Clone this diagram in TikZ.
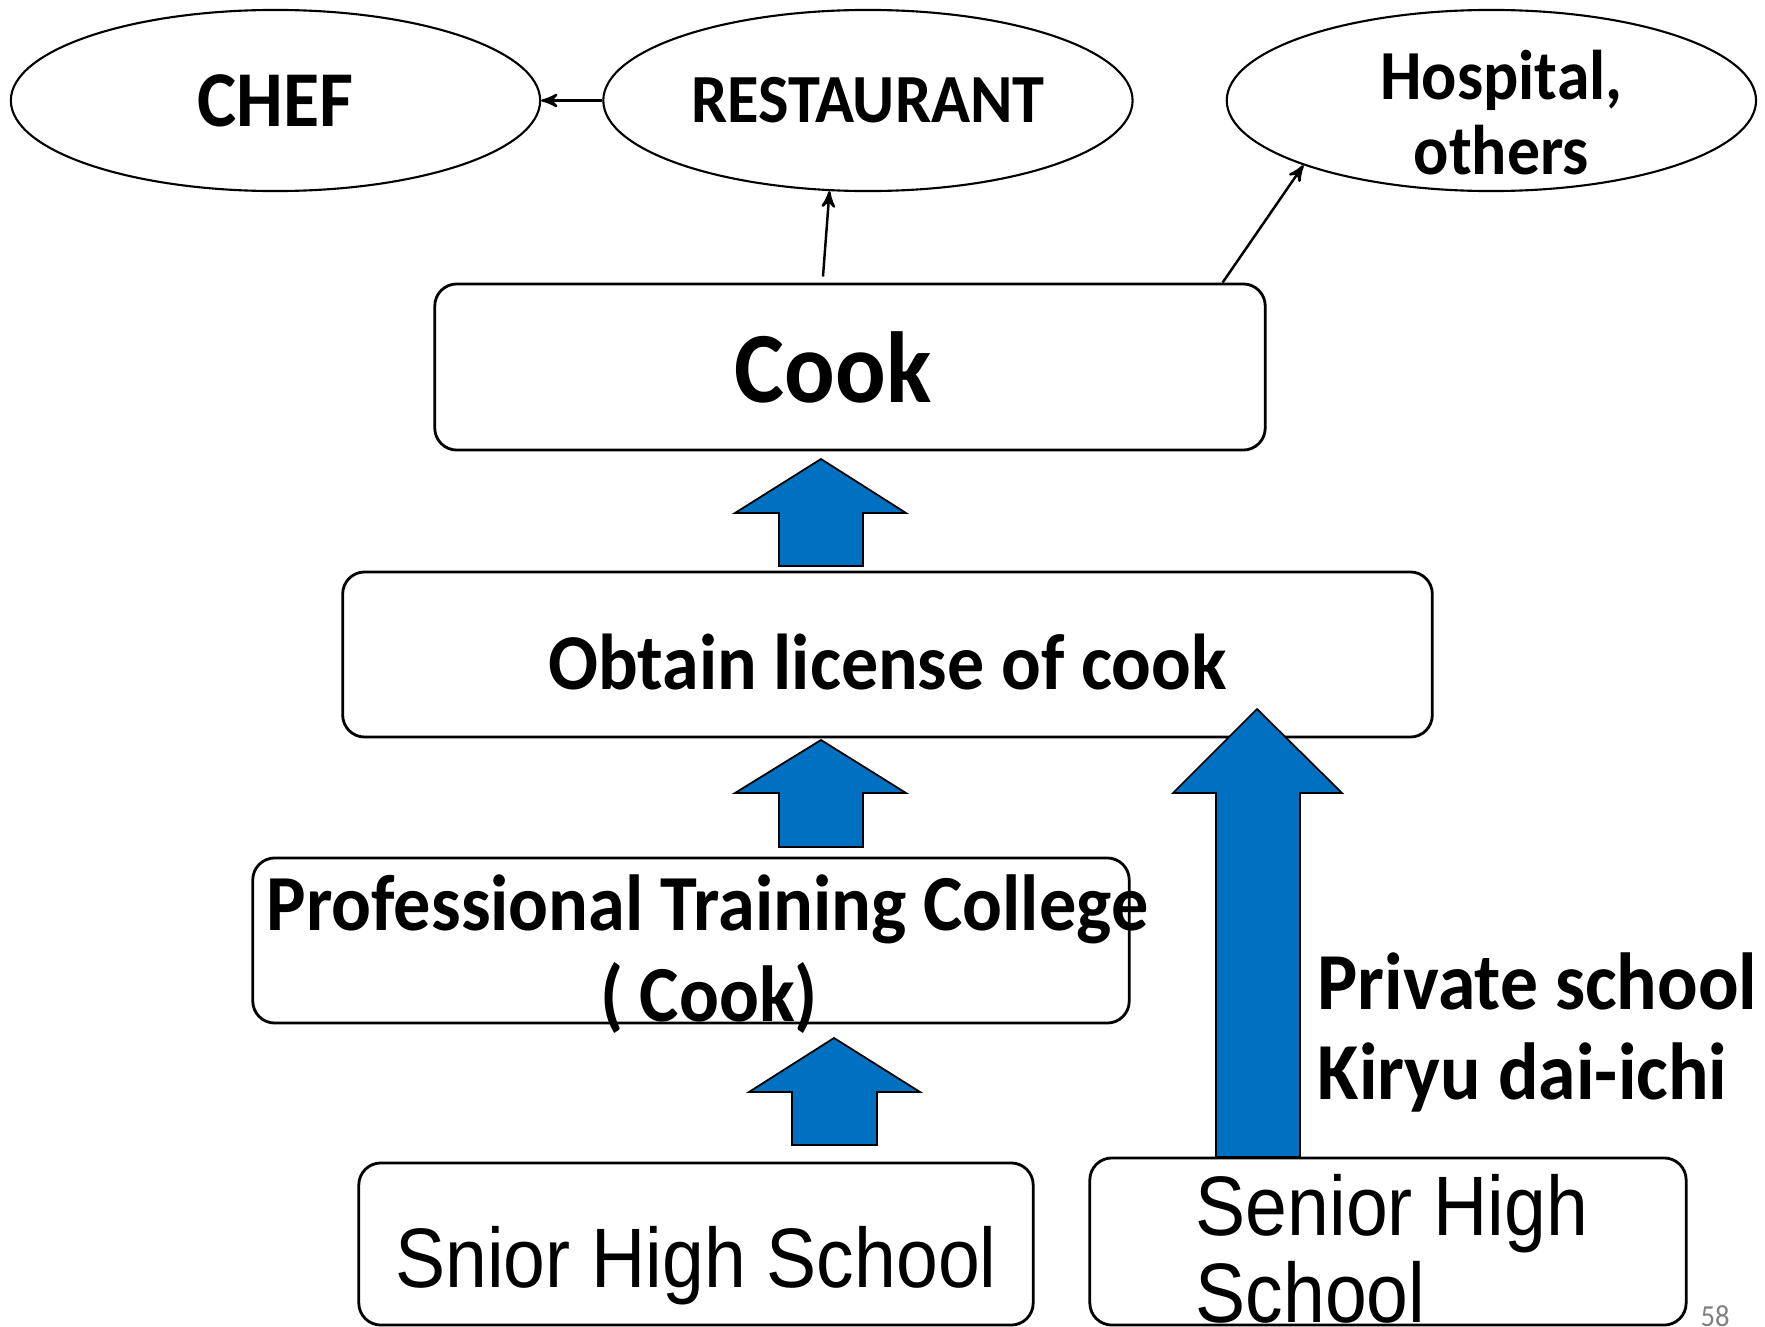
\documentclass[tikz,border=0pt]{standalone}
\usepackage{fontspec}
\setmainfont{Carlito}[FakeStretch=0.935]
\newfontfamily\arialfont{Liberation Sans}[FakeStretch=0.89]
\usepackage{tikz}
\usetikzlibrary{shapes.geometric, positioning, arrows}
\definecolor{arrowblue}{HTML}{0070C0}
\tikzset{
  >=stealth',
  place/.style={ellipse, draw, line width=0.6pt, minimum width=5.29cm, minimum height=1.81cm, inner sep=-0.05cm, align=center},
  stage/.style={draw, rounded corners=0.22cm, line width=0.8pt, inner sep=0pt, align=center},
  uparrow/.style={fill=arrowblue, draw=black, line width=0.5pt},
  flow/.style={->, line width=0.7pt},
}

\begin{document}
\begin{tikzpicture}[x=0.01cm, y=-0.01cm]
			      \clip (0,0) rectangle (1765,1327);

			      % places
			      \node[place, font=\bfseries\fontsize{22.5}{27}\selectfont] (chef) at (275.5,100.5) {CHEF};
			      \node[place, right=0.61cm of chef, font=\bfseries\fontsize{19.6}{24}\selectfont] (restaurant) {RESTAURANT};
			      \node[place, right=0.92cm of restaurant, inner sep=-0.15cm, font=\bfseries\fontsize{20}{21.4}\selectfont] (hospital) {\rule{0pt}{0.74cm}\hspace*{0.2cm}Hospital,\\\hspace*{0.2cm}others};

			      % stages
			      \node[stage, minimum width=8.3cm, minimum height=1.66cm, font=\bfseries\fontsize{28.7}{34}\selectfont] (cook) at (850,367) {Cook\hspace*{0.34cm}};
			      \node[stage, minimum width=10.89cm, minimum height=1.65cm, text height=0.69cm, text depth=0pt, font=\bfseries\fontsize{22.5}{27}\selectfont] (license) at (887.5,654.5) {Obtain license of cook};
			      \node[stage, align=flush center, text width=8.48cm, inner xsep=0.14cm, minimum height=1.65cm, inner ysep=-0.15cm, font=\bfseries\fontsize{22.6}{25.6}\selectfont] (college) at (691,940.5) {\rule{0pt}{0.83cm}\mbox{Professional Training College}\\\hspace*{0.36cm}( Cook)};
			      \node[stage, minimum width=6.74cm, minimum height=1.62cm, text height=0.86cm, text depth=0pt, font=\arialfont\fontsize{24}{28}\selectfont] (snior) at (696,1244) {Snior High School};
			      \node[stage, align=left, minimum width=5.96cm, minimum height=1.67cm, font=\arialfont\fontsize{24}{24.8}\selectfont] (senior) at (1388,1241.5) {\rule{0pt}{0.76cm}\hspace*{0.08cm}Senior High\\\hspace*{0.08cm}School};

			      % transitions
			      \draw[flow] (restaurant.west) -- (chef.east);
			      \draw[flow] ([xshift=-0.27cm, yshift=0.06cm]cook.north) -- (restaurant.247);
			      \draw[flow] ([xshift=-0.44cm]cook.north east) -- (hospital.199);

			      % block arrows
			      \draw[uparrow] (779,566) -- (779,513) -- (735,513) -- (821,459) -- (906,513) -- (863,513) -- (863,566) -- cycle;
			      \draw[uparrow] (779,847) -- (779,793) -- (735,793) -- (821,740) -- (906,793) -- (863,793) -- (863,847) -- cycle;
			      \draw[uparrow] (792,1145) -- (792,1092) -- (749,1092) -- (834,1038) -- (920,1092) -- (877,1092) -- (877,1145) -- cycle;
			      \draw[uparrow] (1216,1157) -- (1216,793) -- (1173,793) -- (1257,709) -- (1342,793) -- (1300,793) -- (1300,1157) -- cycle;

			      \node[anchor=west, align=left, inner sep=0pt, font=\bfseries\fontsize{23}{25.6}\selectfont] (private) at (1317,1032) {Private school\\Kiryu dai-ichi};
			      \node[anchor=base west, text=gray, inner sep=0pt, font=\fontsize{8.7}{10}\selectfont] (page) at (1700,1326) {58};

		      \end{tikzpicture}
\end{document}
